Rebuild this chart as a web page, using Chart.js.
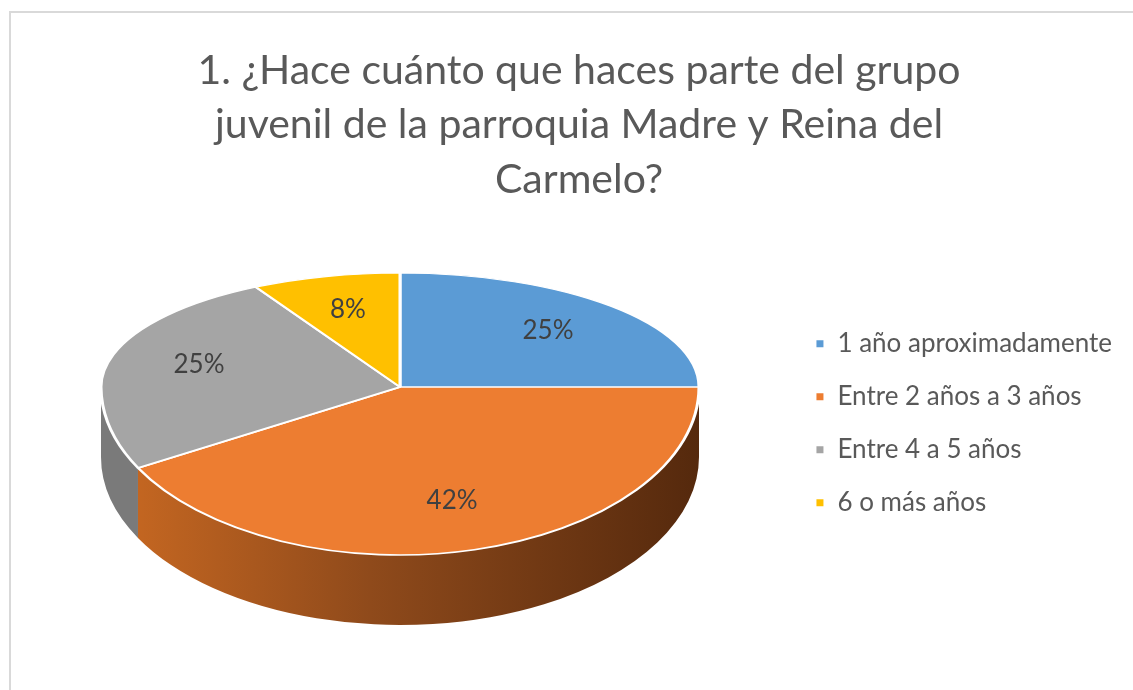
<!DOCTYPE html>
<html>
<head>
<meta charset="utf-8">
<script src="https://cdn.jsdelivr.net/npm/chart.js@4.4.1/dist/chart.umd.min.js"></script>
<style>
  html, body { margin: 0; padding: 0; background: #fff; }
  #frame { position: absolute; left: 9px; top: 11px; width: 1200px; height: 760px;
           border-left: 2px solid #d9d9d9; border-top: 2px solid #d9d9d9; }
  #wrap { position: absolute; left: 0; top: 0; width: 1133px; height: 690px; }
</style>
</head>
<body>
<div id="frame"></div>
<div id="wrap"><canvas id="myChart"></canvas></div>
<script>
const categories = ['1 año aproximadamente', 'Entre 2 años a 3 años', 'Entre 4 a 5 años', '6 o más años'];
const percents = [25, 42, 25, 8];
const titleLines = ['1. ¿Hace cuánto que haces parte del grupo', 'juvenil de la parroquia Madre y Reina del', 'Carmelo?'];

const colors = ['#5B9BD5', '#ED7D31', '#A5A5A5', '#FFC000'];
const sideColors = ['#3E77AB', null, '#7A7A7A', '#C79600'];

// tilted disc: far half is flatter than the near half (fake perspective)
const tilt = { cx: 400, cy: 387, rx: 299, ryTop: 114, ryBottom: 168, depth: 70 };

function squash(ctx, arc, ry) {
  ctx.translate(tilt.cx, tilt.cy);
  ctx.scale(tilt.rx / arc.outerRadius, ry / arc.outerRadius);
  ctx.translate(-arc.x, -arc.y);
}

const pie3d = {
  id: 'pie3d',
  beforeDatasetsDraw(chart) {
    const ctx = chart.ctx;
    const arcs = chart.getDatasetMeta(0).data;
    const { cx, cy, rx, ryBottom, depth } = tilt;

    // side wall, only the front half is visible
    arcs.forEach((arc, i) => {
      const a0 = Math.max(arc.startAngle, 0);
      const a1 = Math.min(arc.endAngle, Math.PI);
      if (a1 <= a0) return;
      let fill = sideColors[i];
      if (!fill) {
        fill = ctx.createLinearGradient(cx - rx, 0, cx + rx, 0);
        fill.addColorStop(0, '#CB6A22');
        fill.addColorStop(0.45, '#8F4A1B');
        fill.addColorStop(1, '#55290D');
      }
      ctx.beginPath();
      ctx.ellipse(cx, cy, rx, ryBottom, 0, a0, a1);
      ctx.ellipse(cx, cy + depth, rx, ryBottom, 0, a1, a0, true);
      ctx.closePath();
      ctx.fillStyle = fill;
      ctx.fill();
    });

    // back half of the top face
    ctx.save();
    ctx.beginPath();
    ctx.rect(0, 0, chart.width, cy);
    ctx.clip();
    squash(ctx, arcs[0], tilt.ryTop);
  },
  afterDatasetsDraw(chart) {
    const ctx = chart.ctx;
    ctx.restore();
    const arcs = chart.getDatasetMeta(0).data;
    const { cx, cy, rx, ryTop, ryBottom } = tilt;

    // front half of the top face
    ctx.save();
    ctx.beginPath();
    ctx.rect(0, cy, chart.width, chart.height - cy);
    ctx.clip();
    squash(ctx, arcs[0], ryBottom);
    arcs.forEach(arc => arc.draw(ctx));
    ctx.restore();

    ctx.save();
    ctx.font = '26px Lato';
    ctx.fillStyle = '#404040';
    ctx.textAlign = 'center';
    ctx.textBaseline = 'middle';
    arcs.forEach((arc, i) => {
      const mid = (arc.startAngle + arc.endAngle) / 2;
      const f = 0.7;
      const s = Math.sin(mid);
      const ry = s < 0 ? ryTop : ryBottom;
      ctx.fillText(percents[i] + '%', cx + Math.cos(mid) * rx * f, cy + s * ry * f);
    });
    ctx.restore();
  }
};

const ctx = document.getElementById('myChart');
const chart = new Chart(ctx, {
  type: 'pie',
  data: {
    labels: categories,
    datasets: [{
      data: percents,
      backgroundColor: colors,
      borderColor: '#ffffff',
      borderWidth: 2
    }]
  },
  options: {
    responsive: true,
    maintainAspectRatio: false,
    animation: false,
    events: [],
    layout: { padding: { left: 36, right: 11, top: 0, bottom: 70 } },
    plugins: {
      title: {
        display: true,
        text: titleLines,
        color: '#595959',
        font: { family: 'Lato', size: 41, weight: 'normal', lineHeight: 1.32 },
        padding: { top: 44, bottom: 20 }
      },
      legend: {
        position: 'right',
        fullSize: false,
        labels: {
          color: '#595959',
          font: { family: 'Lato', size: 26 },
          boxWidth: 9,
          boxHeight: 9,
          padding: 27
        }
      },
      tooltip: { enabled: false }
    }
  },
  plugins: [pie3d]
});
</script>
</body>
</html>
